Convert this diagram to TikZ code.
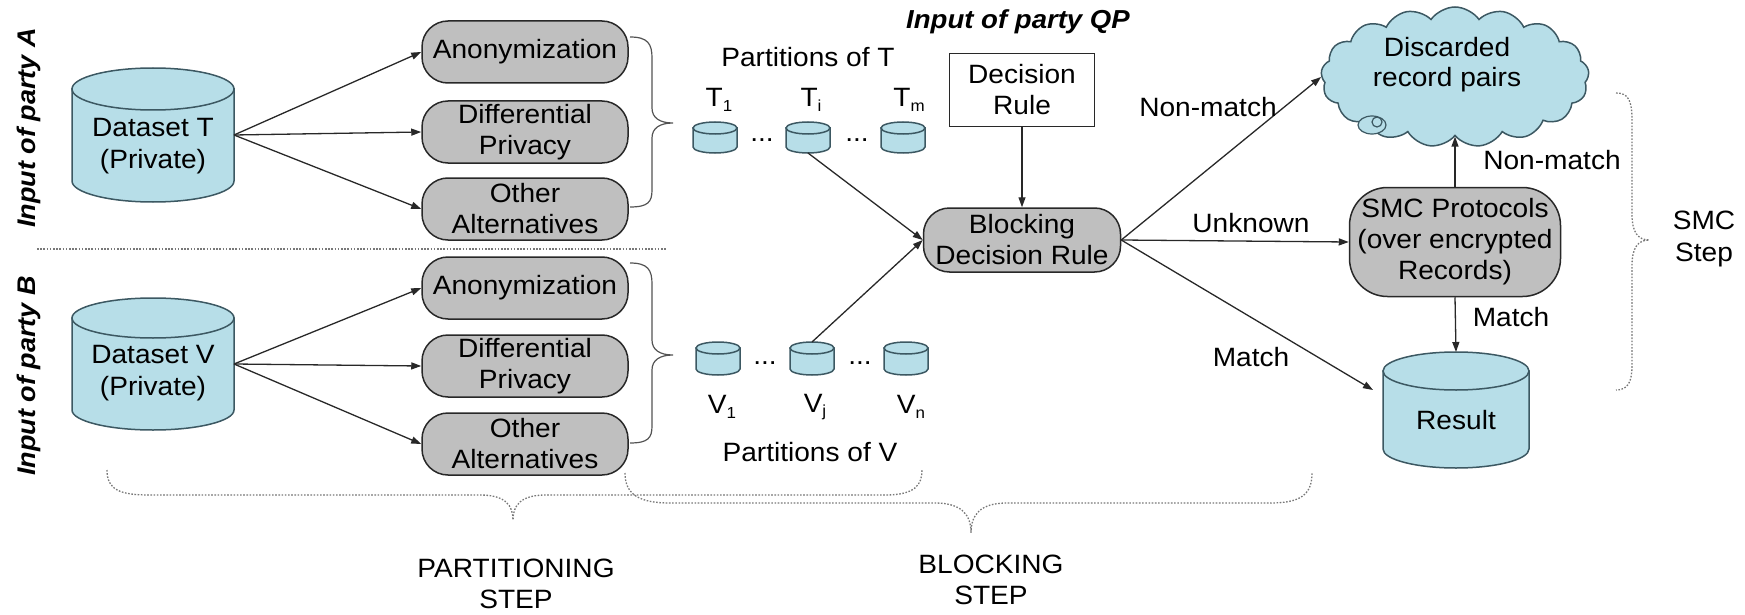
\documentclass[tikz,border=0pt]{standalone}
\usepackage{fontspec}
\setmainfont[FakeStretch=1.06]{Liberation Sans}
\usetikzlibrary{arrows.meta,shapes.symbols,calc}
\definecolor{aqua}{RGB}{183,222,232}
\definecolor{aqualine}{RGB}{60,88,98}
\definecolor{boxgray}{RGB}{191,191,191}
\definecolor{ink}{RGB}{40,40,40}
\definecolor{dotgray}{RGB}{120,120,120}
\newcommand{\mysub}[1]{\raisebox{-0.35ex}{\fontsize{16}{16}\selectfont #1}}
\newcommand{\cyl}[6]{%
  \node[inner sep=0pt, outer sep=0pt, minimum width={2*#5}, minimum height={#4-#3}] (#1) at (#2,{(#3+#4)/2}) {};
  \filldraw[cylfill] ({#2-#5},{#3+#6}) -- ({#2-#5},{#4-#6})
     .. controls ({#2-#5},{#4-#6+0.552*#6}) and ({#2-0.552*#5},{#4}) .. (#2,#4)
     .. controls ({#2+0.552*#5},{#4}) and ({#2+#5},{#4-#6+0.552*#6}) .. ({#2+#5},{#4-#6})
     -- ({#2+#5},{#3+#6}) -- cycle;
  \filldraw[cylfill] (#2,{#3+#6}) ellipse [x radius=#5, y radius=#6];
}
\begin{document}
\begin{tikzpicture}[x=1pt,y=-1pt,
  every node/.style={font=\fontsize{26.5}{31}\selectfont, text=black},
  conn/.style={draw=ink, line width=1.3pt, -{Triangle[length=10pt,width=7pt]}},
  graybox/.style={draw=ink, line width=1.5pt, fill=boxgray, rounded corners=26pt, minimum width=206pt, minimum height=62pt, align=center, inner sep=0pt},
  cylfill/.style={fill=aqua, draw=aqualine, line width=1.5pt},
  partylabel/.style={rotate=90, font=\fontsize{25.5}{30}\selectfont\bfseries\itshape},
  solidbrace/.style={draw=ink!80, line width=1.2pt},
  dotbrace/.style={draw=dotgray, line width=1.3pt, dash pattern=on 1.6pt off 1.6pt},
  lbl/.style={inner sep=1pt}]
\useasboundingbox (0,0) rectangle (1745,615);

% ---------- party labels and separator ----------
\node[partylabel] (pa) at (29,128) {Input of party A};
\node[partylabel] (pb) at (29,376) {Input of party B};
\draw[dotbrace] (37,249) -- (666,249);

% ---------- datasets ----------
\cyl{dsT}{153}{68}{202}{81}{21}
\node[align=center, font=\fontsize{26.5}{32}\selectfont] (dsTt) at (153,146) {Dataset T\\(Private)};
\cyl{dsV}{153}{298}{430}{81}{20}
\node[align=center, font=\fontsize{26.5}{32}\selectfont] (dsVt) at (153,373) {Dataset V\\(Private)};

% ---------- partitioning methods ----------
\node[graybox] (anT) at (525,52) {Anonymization};
\node[graybox] (dpT) at (525,132) {Differential\\Privacy};
\node[graybox] (oaT) at (525,209) {Other\\Alternatives};
\node[graybox] (anV) at (525,288) {Anonymization};
\node[graybox] (dpV) at (525,366) {Differential\\Privacy};
\node[graybox] (oaV) at (525,444) {Other\\Alternatives};

\draw[conn] (dsT.east) -- (anT.west);
\draw[conn] (dsT.east) -- (dpT.west);
\draw[conn] (dsT.east) -- (oaT.west);
\draw[conn] (dsV.east) -- (anV.west);
\draw[conn] (dsV.east) -- (dpV.west);
\draw[conn] (dsV.east) -- (oaV.west);

% ---------- solid braces ----------
\draw[solidbrace] (630,37) .. controls (648,37) and (652,44) .. (652,58) -- (652,108)
  .. controls (652,118) and (660,123) .. (673,123) .. controls (660,123) and (652,128) .. (652,138)
  -- (652,190) .. controls (652,202) and (648,207) .. (630,207);
\draw[solidbrace] (630,263) .. controls (648,263) and (652,270) .. (652,284) -- (652,340)
  .. controls (652,350) and (660,355) .. (673,355) .. controls (660,355) and (652,360) .. (652,370)
  -- (652,426) .. controls (652,438) and (648,443) .. (630,443);

% ---------- partitions ----------
\node (pT) at (808,57) {Partitions of T};
\node (lT1) at (719,100) {T\mysub{1}};
\node (lTi) at (811,100) {T\mysub{i}};
\node (lTm) at (909,100) {T\mysub{m}};
\cyl{T1}{715}{122}{153}{22}{6}
\cyl{Ti}{808}{122}{153}{22}{6}
\cyl{Tm}{903}{122}{153}{22}{6}
\node[anchor=base] (dT1) at (762,142) {...};
\node[anchor=base] (dT2) at (857,142) {...};

\cyl{V1}{718}{342}{375}{22}{6}
\cyl{Vj}{812}{342}{375}{22}{6}
\cyl{Vn}{906}{342}{375}{22}{6}
\node[anchor=base] (dV1) at (765,364) {...};
\node[anchor=base] (dV2) at (860,364) {...};
\node (lV1) at (722,407) {V\mysub{1}};
\node (lVj) at (815,407) {V\mysub{j}};
\node (lVn) at (911,407) {V\mysub{n}};
\node (pV) at (810,452) {Partitions of V};

% ---------- blocking ----------
\node[font=\fontsize{26}{30}\selectfont\bfseries\itshape] (qp) at (1018,22) {Input of party QP};
\node[draw=ink, line width=1.5pt, fill=white, minimum width=145pt, minimum height=73pt, align=center, inner sep=0pt] (dr) at (1022,90) {Decision\\Rule};
\node[graybox, minimum width=197pt, minimum height=64pt] (blk) at (1022,240) {Blocking\\Decision Rule};
\draw[conn] (dr.south) -- (blk.north);
\draw[conn] (Ti.south) -- (blk.west);
\draw[conn] (Vj.north) -- (blk.west);

% ---------- right part ----------
\node[cloud, cloud puffs=17, cloud puff arc=110, cloud ignores aspect, minimum width=268pt, minimum height=140pt, fill=aqua, draw=aqualine, line width=1.5pt] (disc) at (1455,77) {};
\node[align=center, font=\fontsize{26.5}{30}\selectfont] (disct) at (1447,65) {Discarded\\record pairs};
\filldraw[cylfill, line width=1.2pt] (1372,125) ellipse [x radius=14, y radius=9];
\draw[aqualine, line width=1.2pt] (1377,122) circle [radius=5];

\node[graybox, minimum width=211pt, minimum height=109pt, rounded corners=38pt] (smc) at (1455,242) {SMC Protocols\\(over encrypted\\Records)};
\cyl{res}{1456}{352}{468}{73}{19}
\node (rest) at (1456,420) {Result};

\draw[conn] (blk.east) -- (disc.west);
\draw[conn] (blk.east) -- (smc.west);
\draw[conn] (blk.east) -- ([shift={(-10,-20)}]res.west);
\draw[conn] (smc.north) -- (smc.north |- disc.south);
\draw[conn] (smc.south) -- (res.north);

\node[lbl] (lnm1) at (1208,107) {Non-match};
\node[lbl] (lunk) at (1251,223) {Unknown};
\node[lbl] (lm1) at (1251,357) {Match};
\node[lbl] (lnm2) at (1552,160) {Non-match};
\node[lbl] (lm2) at (1511,317) {Match};

% ---------- step braces ----------
\draw[dotbrace] (1616,93) .. controls (1628,93) and (1632,100) .. (1632,120) -- (1632,215)
  .. controls (1632,232) and (1638,240) .. (1649,240) .. controls (1638,240) and (1632,248) .. (1632,265)
  -- (1632,365) .. controls (1632,382) and (1628,390) .. (1616,390);
\node[align=center, font=\fontsize{26.5}{32}\selectfont] (smcstep) at (1704,239) {SMC\\Step};

\draw[dotbrace] (107,470) .. controls (107,490) and (120,495) .. (150,495) -- (480,495)
  .. controls (505,495) and (513,505) .. (513,520) .. controls (513,505) and (521,495) .. (546,495)
  -- (885,495) .. controls (915,495) and (922,485) .. (922,470);
\draw[dotbrace] (625,473) .. controls (625,495) and (640,503) .. (670,503) -- (935,503)
  .. controls (962,503) and (971,515) .. (971,533) .. controls (971,515) and (980,503) .. (1007,503)
  -- (1270,503) .. controls (1300,503) and (1312,495) .. (1312,473);
\node[align=center, font=\fontsize{26.5}{31}\selectfont] (ps) at (516,584) {PARTITIONING\\STEP};
\node[align=center, font=\fontsize{26.5}{31}\selectfont] (bs) at (991,580) {BLOCKING\\STEP};
\end{tikzpicture}
\end{document}
